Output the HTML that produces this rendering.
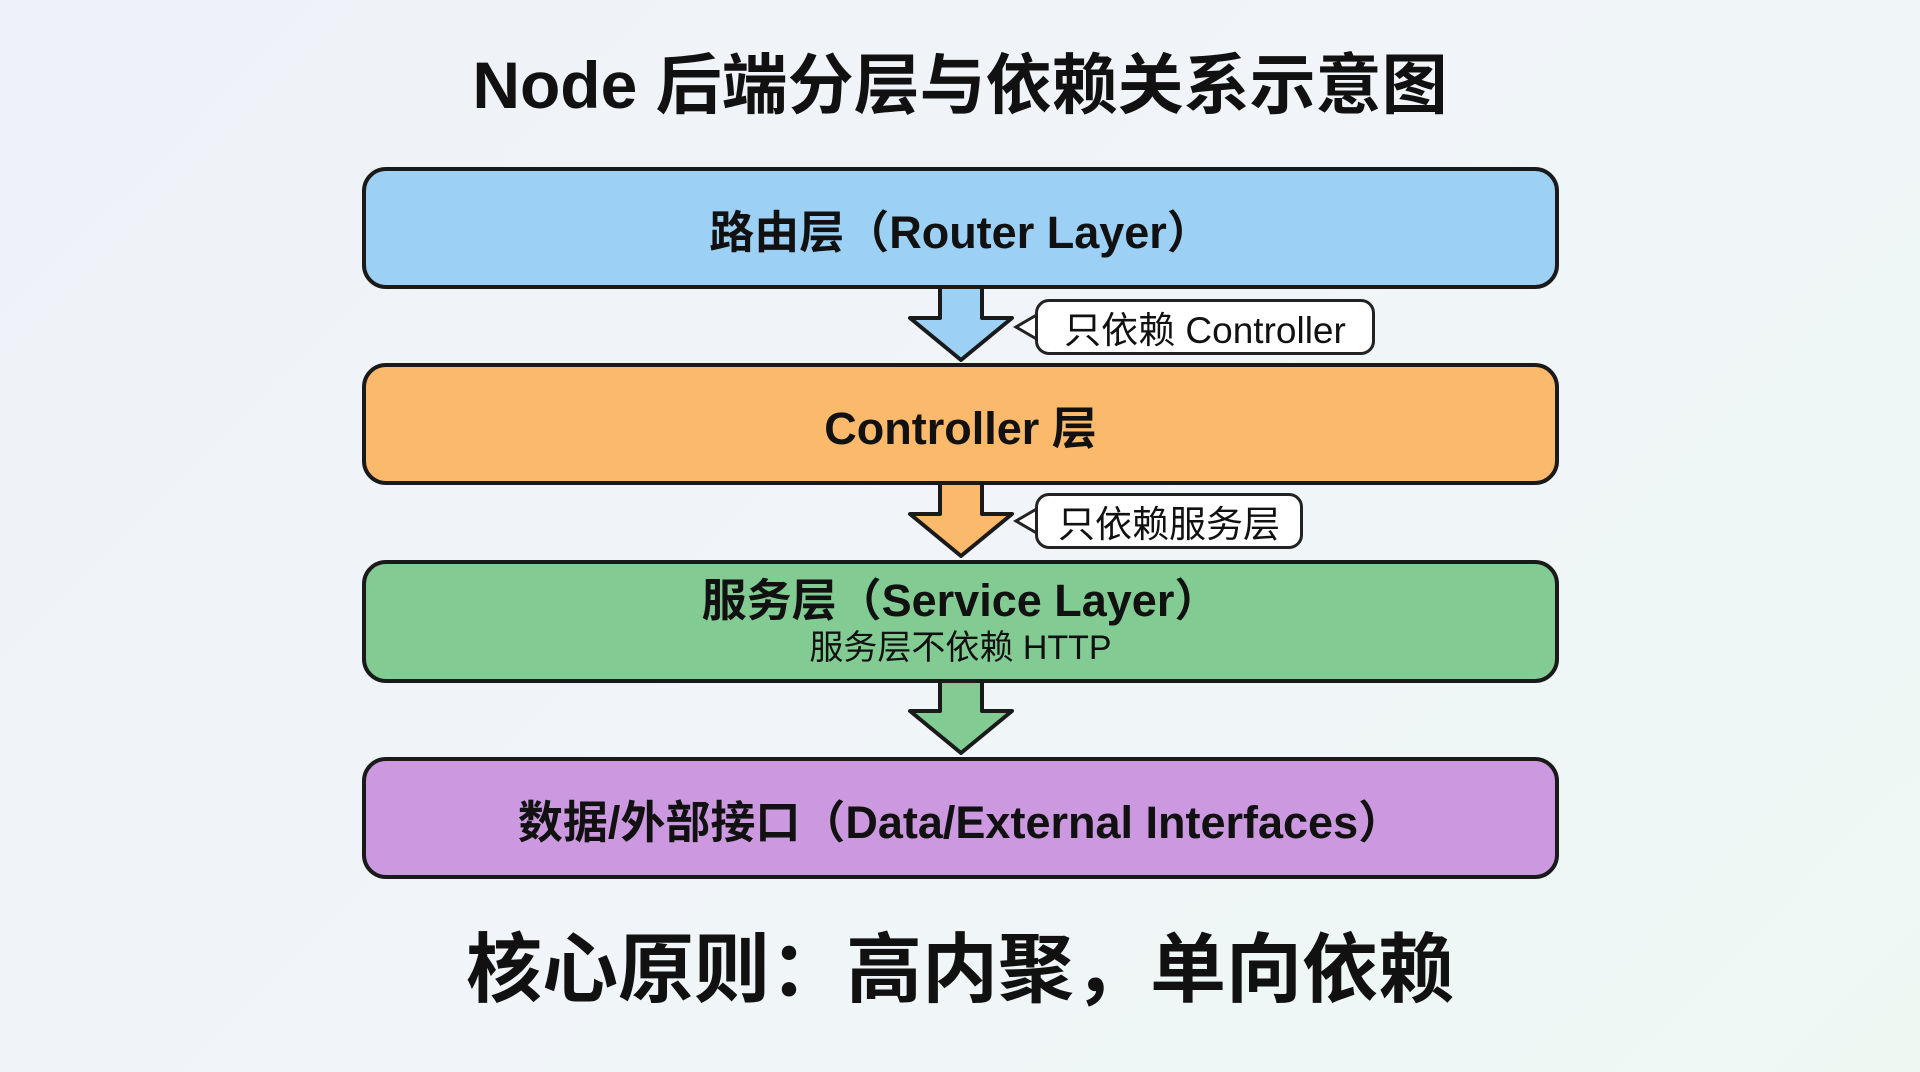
<!DOCTYPE html>
<html><head><meta charset="utf-8"><style>
body{margin:0;width:1920px;height:1072px;overflow:hidden;background:linear-gradient(135deg,#eef2f8 0%,#f1f5f9 50%,#edf8f3 100%);font-family:"Liberation Sans","Noto Sans CJK SC",sans-serif;position:relative;color:#111}
.t{position:absolute;left:0;width:1920px;text-align:center;font-weight:bold}
.box{position:absolute;left:362px;width:1197px;border:4px solid #1a1a1a;border-radius:24px;display:flex;flex-direction:column;align-items:center;justify-content:center;font-weight:bold;font-size:45px;box-sizing:border-box}
.call{position:absolute;border:3px solid #222;border-radius:14px;background:#fff;font-size:37px;display:flex;align-items:center;justify-content:center;box-sizing:border-box}
</style></head><body>
<div class="t" style="top:32px;font-size:66px">Node 后端分层与依赖关系示意图</div>
<svg width="1920" height="1072" style="position:absolute;left:0;top:0">
<g stroke="#1a1a1a" stroke-width="4" stroke-linejoin="round">
<polygon points="940,286 982,286 982,318 1012,318 961,360 910,318 940,318" fill="#9dd0f5"/>
<polygon points="940,482 982,482 982,514 1012,514 961,556 910,514 940,514" fill="#fbb96b"/>
<polygon points="940,679 982,679 982,711 1012,711 961,753 910,711 940,711" fill="#82cc93"/>
</g>
</svg>
<div class="box" style="top:167px;height:122px;background:#9dd0f5">路由层（Router Layer）</div>
<div class="box" style="top:363px;height:122px;background:#fbb96b">Controller 层</div>
<div class="box" style="top:560px;height:123px;background:#82cc93;line-height:1.2"><div>服务层（Service Layer）</div><div style="font-size:34px;font-weight:normal">服务层不依赖 HTTP</div></div>
<div class="box" style="top:757px;height:122px;background:#cc99e0">数据/外部接口（Data/External Interfaces）</div>
<svg width="1920" height="1072" style="position:absolute;left:0;top:0">
<polyline points="1040,313 1016,327 1040,341" fill="#fff" stroke="#222" stroke-width="3"/>
<polyline points="1040,507 1016,521 1040,535" fill="#fff" stroke="#222" stroke-width="3"/>
</svg>
<div class="call" style="left:1035px;top:299px;width:340px;height:56px">只依赖 Controller</div>
<div class="call" style="left:1035px;top:493px;width:268px;height:56px">只依赖服务层</div>
<div class="t" style="top:908px;font-size:76px">核心原则：高内聚，单向依赖</div>
</body></html>
